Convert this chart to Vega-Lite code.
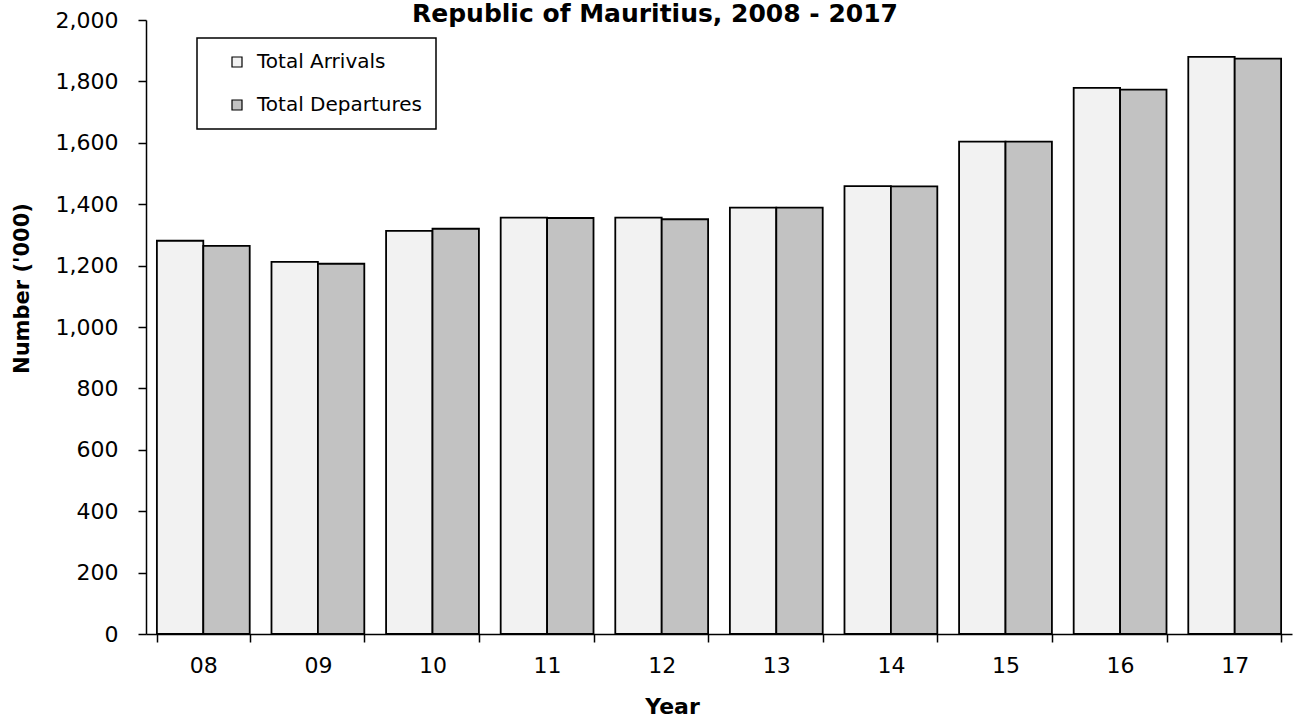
{
  "$schema": "https://vega.github.io/schema/vega-lite/v6.json",
  "autosize": {"type": "none"},
  "padding": {"left": 146, "top": 20, "right": 6, "bottom": 86},
  "width": 1146,
  "height": 614,
  "background": "white",
  "title": {
    "text": "Republic of Mauritius, 2008 - 2017",
    "font": "DejaVu Sans",
    "fontSize": 25,
    "fontWeight": "bold",
    "color": "black",
    "anchor": "middle",
    "frame": "group",
    "baseline": "alphabetic",
    "offset": 0,
    "dy": 38,
    "dx": -64
  },
  "data": {
    "values": [
      {"year": "08", "series": "Total Arrivals", "value": 1281},
      {"year": "08", "series": "Total Departures", "value": 1264},
      {"year": "09", "series": "Total Arrivals", "value": 1212},
      {"year": "09", "series": "Total Departures", "value": 1206},
      {"year": "10", "series": "Total Arrivals", "value": 1313},
      {"year": "10", "series": "Total Departures", "value": 1320},
      {"year": "11", "series": "Total Arrivals", "value": 1356},
      {"year": "11", "series": "Total Departures", "value": 1355},
      {"year": "12", "series": "Total Arrivals", "value": 1356},
      {"year": "12", "series": "Total Departures", "value": 1351},
      {"year": "13", "series": "Total Arrivals", "value": 1389},
      {"year": "13", "series": "Total Departures", "value": 1389},
      {"year": "14", "series": "Total Arrivals", "value": 1459},
      {"year": "14", "series": "Total Departures", "value": 1458},
      {"year": "15", "series": "Total Arrivals", "value": 1604},
      {"year": "15", "series": "Total Departures", "value": 1604},
      {"year": "16", "series": "Total Arrivals", "value": 1779},
      {"year": "16", "series": "Total Departures", "value": 1773},
      {"year": "17", "series": "Total Arrivals", "value": 1880},
      {"year": "17", "series": "Total Departures", "value": 1874}
    ]
  },
  "mark": {"type": "bar", "stroke": "black", "strokeWidth": 1.8},
  "encoding": {
    "x": {
      "field": "year",
      "type": "nominal",
      "sort": null,
      "scale": {"paddingInner": 0.19, "paddingOuter": 0.095},
      "axis": {
        "title": "Year",
        "titleFont": "DejaVu Sans",
        "titleFontSize": 22,
        "titleFontWeight": "bold",
        "titleColor": "black",
        "titleX": 526,
        "titleY": 79,
        "titleBaseline": "alphabetic",
        "titleAlign": "center",
        "labelFont": "DejaVu Sans",
        "labelFontSize": 22,
        "labelColor": "black",
        "labelAngle": 0,
        "labelPadding": 13,
        "tickBand": "extent",
        "tickSize": 8,
        "tickColor": "black",
        "tickWidth": 1.5,
        "domainColor": "black",
        "domainWidth": 1.5,
        "grid": false
      }
    },
    "xOffset": {
      "field": "series",
      "type": "nominal",
      "scale": {"paddingInner": 0, "paddingOuter": 0}
    },
    "y": {
      "field": "value",
      "type": "quantitative",
      "scale": {"domain": [0, 2000], "nice": false},
      "axis": {
        "title": "Number ('000)",
        "titleFont": "DejaVu Sans",
        "titleFontSize": 21,
        "titleFontWeight": "bold",
        "titleColor": "black",
        "titleAngle": -90,
        "titleX": -124,
        "titleY": 268,
        "titleBaseline": "middle",
        "titleAlign": "center",
        "values": [0, 200, 400, 600, 800, 1000, 1200, 1400, 1600, 1800, 2000],
        "format": ",d",
        "labelFont": "DejaVu Sans",
        "labelFontSize": 22,
        "labelColor": "black",
        "labelPadding": 20,
        "tickSize": 8,
        "tickColor": "black",
        "tickWidth": 1.5,
        "domainColor": "black",
        "domainWidth": 1.5,
        "grid": false
      }
    },
    "color": {
      "field": "series",
      "type": "nominal",
      "scale": {"domain": ["Total Arrivals", "Total Departures"], "range": ["#f2f2f2", "#c2c2c2"]},
      "legend": {
        "title": null,
        "orient": "none",
        "legendX": 51,
        "legendY": 18,
        "direction": "vertical",
        "strokeColor": "black",
        "fillColor": "white",
        "padding": 14,
        "rowPadding": 23,
        "symbolType": "square",
        "symbolSize": 100,
        "symbolStrokeColor": "black",
        "symbolStrokeWidth": 1.2,
        "symbolOffset": 16,
        "labelOffset": 10,
        "labelFont": "DejaVu Sans",
        "labelFontSize": 20,
        "labelColor": "black",
        "labelLimit": 400,
        "encode": {"legend": {"update": {"strokeWidth": {"value": 1.5}}}}
      }
    }
  },
  "config": {"view": {"stroke": null}}
}
